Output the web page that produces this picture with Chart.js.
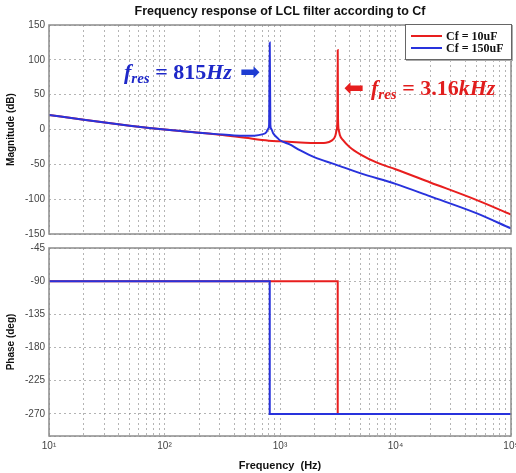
<!DOCTYPE html>
<html lang="en">
<head>
    <meta charset="UTF-8" />
    <title>Frequency response of LCL filter according to Cf</title>
    <script src="https://cdn.jsdelivr.net/npm/chart.js"></script>
    <style>
        body { margin: 0; background: #fff; }
        #wrap { position: relative; width: 516px; height: 473px; overflow: hidden; }
        canvas { position: absolute; left: 0; }
        .note { position: absolute; font-family: 'Liberation Serif', serif; font-weight: bold; font-size: 22px; white-space: nowrap; line-height: 24px; }
        .note i { font-style: italic; }
        .note sub { font-size: 15px; font-style: italic; vertical-align: -4px; line-height: 0; }
        .arrow { position: absolute; font-family: 'DejaVu Sans', sans-serif; font-size: 24px; line-height: 24px; }
        #legend { position: absolute; left: 405px; top: 24px; width: 105px; height: 34px; border: 1px solid #666; background: #fff;
                  box-shadow: 1px 1px 0 #aaa; font: bold 12px 'Liberation Serif', serif; color: #111; }
        .row { position: absolute; left: 40px; height: 14px; line-height: 14px; }
        .swatch { position: absolute; left: 5px; width: 31px; height: 2px; }
    </style>
</head>
<body>
<div id="wrap">
    <canvas id="magChart" width="516" height="244" style="top:0"></canvas>
    <canvas id="phaseChart" width="516" height="237" style="top:236px"></canvas>

    <div id="legend">
        <div class="swatch" style="top:10px; background:rgb(232,30,30)"></div>
        <div class="row" style="top:4px">Cf = 10uF</div>
        <div class="swatch" style="top:22px; background:rgb(40,50,220)"></div>
        <div class="row" style="top:16px">Cf = 150uF</div>
    </div>

    <div class="note" style="left:124px; top:60px; color:rgb(30,40,200)"><i>f</i><sub>res</sub> = 815<i>Hz</i></div>
    <div class="arrow" style="left:240px; top:60px; color:rgb(30,60,210)">➡</div>
    <div class="arrow" style="left:344px; top:76px; color:rgb(230,30,30); transform:scaleX(-1)">➡</div>
    <div class="note" style="left:371px; top:76px; color:rgb(225,30,30)"><i>f</i><sub>res</sub> = 3.16<i>kHz</i></div>
</div>

<script>
    // 크기 (Cf = 10uF)
    const freqRed = [10, 20, 50, 100, 200, 300, 500, 800, 1000, 1500, 2000, 2500, 2800, 3000, 3100, 3140, 3160, 3180, 3220, 3300, 3500, 4000, 5000, 7000, 10000, 20000, 50000, 100000];
    const magRed  = [21, 14, 5.5, 0, -4.5, -7.5, -12, -16, -17, -18.5, -19.5, -19, -16, -10, 0, 15, 114, 15, 0, -8, -15, -25, -36, -48, -57, -76, -101, -122];

    // 크기 (Cf = 150uF)
    const freqBlue = [10, 20, 50, 100, 200, 300, 400, 500, 600, 700, 760, 790, 805, 815, 825, 840, 870, 950, 1000, 1200, 1500, 2000, 3000, 5000, 10000, 20000, 50000, 100000];
    const magBlue  = [21, 14, 5.5, 0, -4.5, -7, -8.5, -9, -8.8, -7, -4, 1, 7, 125, 7, 1, -5, -12, -15.5, -21, -30, -40, -50, -63, -78, -96, -120, -142];

    // 위상
    const freqPhaseRed = [10, 3160, 3160, 100000];
    const phaseRed     = [-90, -90, -270, -270];
    const freqPhaseBlue = [10, 815, 815, 100000];
    const phaseBlue     = [-90, -90, -270, -270];

    // 축 눈금
    const decades = [10, 100, 1000, 10000, 100000];
    const decadeLabels = ['10¹', '10²', '10³', '10⁴', '10⁵'];
    const magTicks = [-150, -100, -50, 0, 50, 100, 150];
    const phaseTicks = [-300, -270, -225, -180, -135, -90, -45];

    const RED = 'rgb(232,30,30)';
    const BLUE = 'rgb(40,50,220)';
    const GRID = 'rgba(140,140,140,0.65)';

    function toPoints(xs, ys) {
        return xs.map((x, i) => ({ x: x, y: ys[i] }));
    }

    function logTicks() {
        const list = [];
        decades.forEach((d, i) => {
            if (i === decades.length - 1) { list.push(d); return; }
            for (let m = 1; m < 10; m++) list.push(d * m);
        });
        return list;
    }

    // 그래프 테두리
    const framePlugin = {
        id: 'frame',
        afterDraw(chart) {
            const a = chart.chartArea, ctx = chart.ctx;
            ctx.save();
            ctx.strokeStyle = '#8c8c8c';
            ctx.lineWidth = 1.5;
            ctx.strokeRect(a.left, a.top, a.right - a.left, a.bottom - a.top);
            ctx.restore();
        }
    };

    function xScale(showLabels) {
        return {
            type: 'logarithmic',
            min: 10,
            max: 100000,
            afterBuildTicks: s => { s.ticks = logTicks().map(v => ({ value: v })); },
            afterFit: s => {
                s.height = showLabels ? 37 : 0;
                s.paddingLeft = 0;
                s.paddingRight = 0;
            },
            ticks: {
                display: showLabels,
                autoSkip: false,
                maxRotation: 0,
                padding: 4,
                color: '#444',
                font: { family: 'Liberation Sans', size: 10 },
                callback: v => {
                    const i = decades.indexOf(v);
                    return i >= 0 ? decadeLabels[i] : '';
                }
            },
            grid: { color: GRID, drawTicks: false },
            border: { display: false, dash: [2, 3] },
            title: {
                display: showLabels,
                text: 'Frequency  (Hz)',
                padding: { top: 0, bottom: 0 },
                color: '#111',
                font: { family: 'Liberation Sans', size: 11, weight: 'bold' }
            }
        };
    }

    function yScale(min, max, tickList, titleText, hideValue) {
        return {
            min: min,
            max: max,
            afterBuildTicks: s => { s.ticks = tickList.map(v => ({ value: v })); },
            afterFit: s => { s.width = 49; },
            ticks: {
                padding: 4,
                color: '#444',
                font: { family: 'Liberation Sans', size: 10 },
                callback: v => (v === hideValue ? '' : v)
            },
            grid: { color: GRID, drawTicks: false },
            border: { display: false, dash: [2, 3] },
            title: {
                display: true,
                text: titleText,
                padding: { top: 5, bottom: 0 },
                color: '#111',
                font: { family: 'Liberation Sans', size: 10, weight: 'bold' }
            }
        };
    }

    new Chart(document.getElementById('magChart'), {
        type: 'line',
        data: {
            datasets: [
                { label: 'Cf = 10uF', data: toPoints(freqRed, magRed), borderColor: RED, borderWidth: 2, pointRadius: 0, cubicInterpolationMode: 'monotone', order: 1 },
                { label: 'Cf = 150uF', data: toPoints(freqBlue, magBlue), borderColor: BLUE, borderWidth: 2, pointRadius: 0, cubicInterpolationMode: 'monotone', order: 0 }
            ]
        },
        options: {
            responsive: false,
            animation: false,
            devicePixelRatio: 1,
            layout: { padding: { left: 0, right: 5, top: 0, bottom: 6 } },
            plugins: {
                legend: { display: false },
                tooltip: { enabled: false },
                title: {
                    display: true,
                    fullSize: false,
                    text: 'Frequency response of LCL filter according to Cf',
                    color: '#111',
                    padding: { top: 4, bottom: 6 },
                    font: { family: 'Liberation Sans', size: 12.5, weight: 'bold' }
                }
            },
            scales: {
                x: xScale(false),
                y: yScale(-150, 150, magTicks, 'Magnitude (dB)', null)
            }
        },
        plugins: [framePlugin]
    });

    new Chart(document.getElementById('phaseChart'), {
        type: 'line',
        data: {
            datasets: [
                { label: 'Cf = 10uF', data: toPoints(freqPhaseRed, phaseRed), borderColor: RED, borderWidth: 2, pointRadius: 0, order: 1 },
                { label: 'Cf = 150uF', data: toPoints(freqPhaseBlue, phaseBlue), borderColor: BLUE, borderWidth: 2, pointRadius: 0, order: 0 }
            ]
        },
        options: {
            responsive: false,
            animation: false,
            devicePixelRatio: 1,
            layout: { padding: { left: 0, right: 5, top: 12, bottom: 0 } },
            plugins: {
                legend: { display: false },
                tooltip: { enabled: false }
            },
            scales: {
                x: xScale(true),
                y: yScale(-300, -45, phaseTicks, 'Phase (deg)', -300)
            }
        },
        plugins: [framePlugin]
    });
</script>
</body>
</html>
